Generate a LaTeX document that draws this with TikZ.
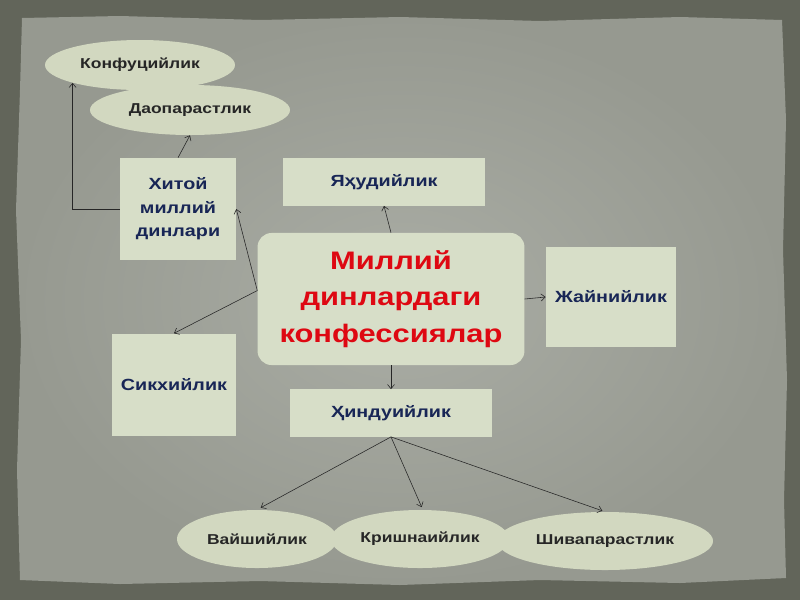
\documentclass[tikz,border=0pt]{standalone}
\usepackage{fontspec}
\setmainfont{Liberation Sans}[FakeStretch=1.22]
\definecolor{Frame}{RGB}{98,101,90}
\definecolor{PaperIn}{RGB}{170,173,165}
\definecolor{PaperOut}{RGB}{150,153,144}
\definecolor{BoxFill}{RGB}{215,222,200}
\definecolor{OvalFill}{RGB}{210,216,192}
\definecolor{BoxInk}{RGB}{24,38,86}
\definecolor{TitleRed}{RGB}{222,8,18}
\usetikzlibrary{positioning, shapes.geometric, arrows.meta}

\begin{document}
\begin{tikzpicture}[x=0.025cm, y=-0.025cm,
		box/.style={fill=BoxFill, text=BoxInk, align=center, inner sep=0pt,
			font=\bfseries\fontsize{11.5}{16.7}\selectfont},
		oval/.style={ellipse, fill=OvalFill, text=black!85, inner sep=0pt,
			minimum height=1.25cm, font=\bfseries\fontsize{10.2}{12}\selectfont},
		link/.style={-{Straight Barb[length=3pt,width=5pt]}, thin, black!85}]
	\useasboundingbox (0,0) rectangle (800,600);
	% torn paper
	\fill[Frame] (0,0) rectangle (800,600);
	\shade[inner color=PaperIn, outer color=PaperOut]
		(22,18) -- (120,16) -- (260,20) -- (400,17) -- (540,21) -- (680,17) -- (782,20)
		-- (786,120) -- (783,250) -- (787,380) -- (784,500) -- (786,578)
		-- (680,583) -- (540,580) -- (400,585) -- (260,581) -- (120,584) -- (20,580)
		-- (17,470) -- (21,340) -- (16,210) -- (20,90) -- cycle;

	\node (konf) at (140,65) [oval, minimum width=4.75cm] {Конфуцийлик};
	\node (dao) at (190,110) [oval, minimum width=5cm] {Даопарастлик};
	\node (china) at (178,209) [box, minimum width=2.9cm, minimum height=2.55cm] {Хитой\\миллий\\динлари};
	\node (yahud) at (384,182) [box, minimum width=5.07cm, minimum height=1.18cm] {Яҳудийлик};
	\node (main) at (391,299) [box, rounded corners=0.35cm, minimum width=6.67cm, minimum height=3.3cm,
		text=TitleRed, font=\bfseries\fontsize{18}{26}\selectfont] {Миллий\\динлардаги\\конфессиялар};
	\node (jain) at (611,297) [box, minimum width=3.25cm, minimum height=2.52cm] {Жайнийлик};
	\node (sikh) at (174,385) [box, minimum width=3.1cm, minimum height=2.57cm] {Сикхийлик};
	\node (hindu) at (391,413) [box, minimum width=5.05cm, minimum height=1.18cm] {Ҳиндуийлик};
	\node (vaish) at (257,539) [oval, minimum width=4cm, minimum height=1.45cm] {Вайшийлик};
	\node (krish) at (420,539) [oval, minimum width=4.45cm, minimum height=1.45cm] {Кришнаийлик};
	\node (shiva) at (605,541) [oval, minimum width=5.4cm, minimum height=1.45cm] {Шивапарастлик};

	\coordinate (split) at ([yshift=6pt]main.west);
	\draw[link] (china.west) -| (konf.south west);
	\draw[link] (china.north) -- (dao.south);
	\draw[link] (split) -- (china.east);
	\draw[link] (split) -- (sikh.north);
	\draw[link] (main.north) -- (yahud.south);
	\draw[link] (main.east) -- (jain.west);
	\draw[link] (main.south) -- (hindu.north);
	\draw[link, shorten >=3pt] (hindu.south) -- (vaish.north);
	\draw[link, shorten >=2pt] (hindu.south) -- ([xshift=2pt]krish.north);
	\draw[link, shorten >=2pt] (hindu.south) -- (shiva.north);
\end{tikzpicture}
\end{document}
